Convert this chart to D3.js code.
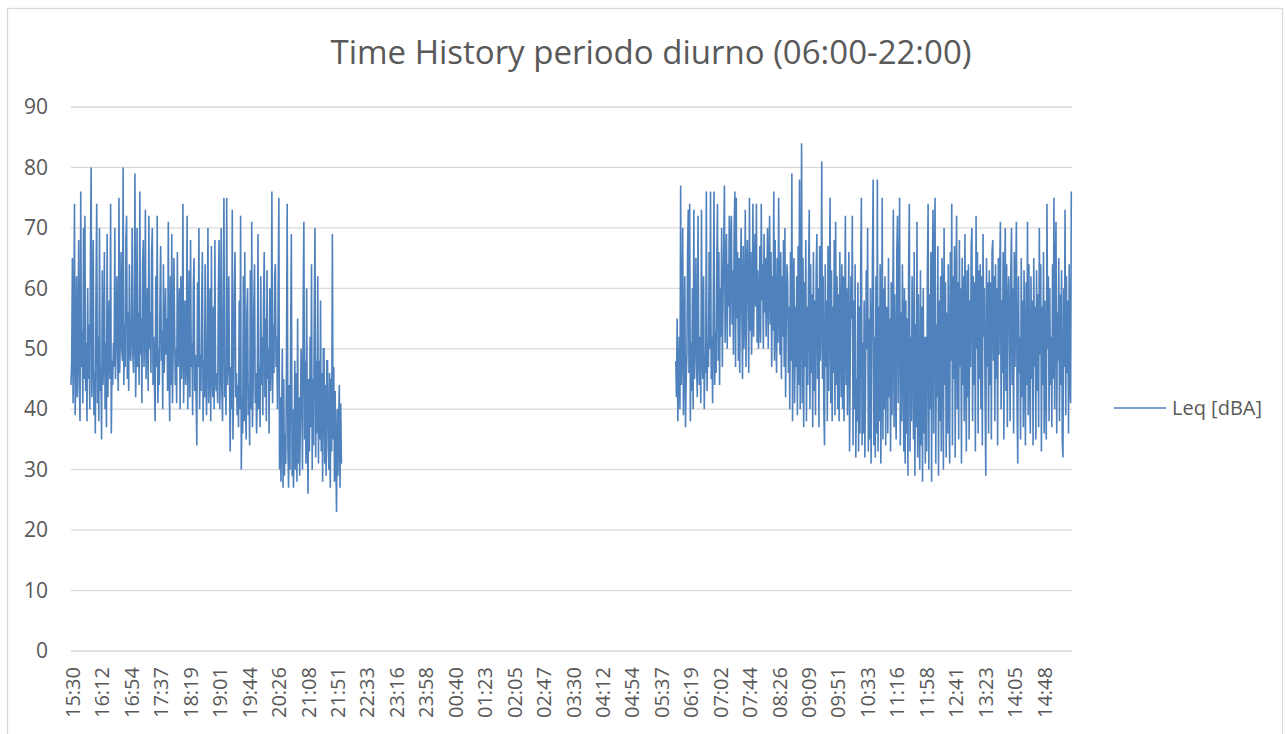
<!DOCTYPE html>
<html>
<head>
<meta charset="utf-8">
<script src="https://cdn.jsdelivr.net/npm/d3@7"></script>
<style>
  body { margin: 0; background: #fff; }
  svg { display: block; font-family: "Open Sans", sans-serif; }
</style>
</head>
<body>
<svg id="chart" width="1285" height="734"></svg>
<script>
// Chart text
const chartTitle = "Time History periodo diurno (06:00-22:00)";
const seriesName = "Leq [dBA]";

// Category labels on the x axis (one every 1/34 of the day)
const timeLabels = ["15:30","16:12","16:54","17:37","18:19","19:01","19:44","20:26","21:08","21:51",
  "22:33","23:16","23:58","00:40","01:23","02:05","02:47","03:30","04:12","04:54",
  "05:37","06:19","07:02","07:44","08:26","09:09","09:51","10:33","11:16","11:58",
  "12:41","13:23","14:05","14:48"];

const yTicks = [0, 10, 20, 30, 40, 50, 60, 70, 80, 90];

// Minutes after 15:30 where each measured block starts, and the step between samples
const afternoonStart = 0;     // 15:30
const morningStart = 870;     // 06:00 next day
const sampleStep = 1;         // minutes

// Leq values, one per minute, 15:30 -> 22:00 (one row = 30 minutes)
const afternoonLeq = [
  44,48,65,41,52,74,39,46,62,42, 50,68,44,38,76,47,53,41,70,45, 72,43,51,38,60,45,54,40,66,80,
  42,50,68,39,46,36,60,74,41,52, 38,70,43,47,35,63,44,49,66,40, 51,37,69,42,50,58,45,74,36,48,
  44,51,47,70,45,53,62,49,43,75, 46,52,66,50,48,80,44,54,47,68, 72,45,56,43,64,50,48,53,70,49,
  46,53,79,42,50,70,47,56,44,76, 49,55,41,64,68,47,52,73,45,51, 60,43,72,50,56,46,66,70,44,52,
  45,38,62,47,72,41,50,44,58,67, 48,53,40,64,46,51,60,49,55,43, 71,47,38,62,44,69,41,50,65,54,
  44,50,41,66,47,52,60,40,62,45, 49,74,41,51,58,44,48,72,40,50, 63,42,68,47,51,39,60,65,43,49,
  42,34,61,47,70,40,49,43,58,66, 38,48,42,64,45,39,50,70,41,47, 60,38,67,46,42,57,40,68,45,43,
  46,41,60,68,40,47,70,43,38,58, 75,42,46,39,75,44,48,62,45,33, 47,40,73,35,44,59,66,42,46,39,
  44,37,58,40,72,30,42,36,62,38, 66,41,35,56,60,39,44,34,63,40, 71,37,43,57,64,41,46,36,42,69,
  40,47,37,62,44,52,39,58,66,42, 55,38,63,45,50,36,60,43,49,76, 41,54,46,62,64,47,52,40,58,75,
  30,42,28,38,50,27,45,29,36,31, 48,74,34,27,44,30,52,69,29,40, 27,33,48,30,46,28,55,31,42,29,
  38,50,44,30,58,71,35,48,31,60, 36,26,45,33,52,37,64,30,45,34, 56,70,32,48,36,62,31,48,35,58,
  33,46,28,50,50,31,44,29,48,48, 34,30,46,27,45,33,69,35,47,28, 43,32,23,40,29,38,44,27,41,31
];

// Leq values, one per minute, 06:00 -> 15:30 (one row = 30 minutes)
const morningLeq = [
  48,42,55,38,46,52,40,77,44,50, 70,39,47,62,37,45,49,66,73,46, 74,38,51,43,60,40,73,45,52,65,
  47,42,72,50,44,52,41,73,48,45, 62,40,49,46,76,43,51,47,66,50, 76,45,52,41,58,76,44,53,46,64,
  74,48,66,44,60,52,70,47,58,67, 77,51,62,69,50,64,57,72,52,68, 72,54,63,49,70,76,47,75,55,66,
  48,65,46,62,70,57,45,67,50,55, 73,47,63,68,58,46,75,53,66,49, 56,74,52,62,69,57,74,51,63,50,
  55,67,51,74,58,64,50,69,56,65, 52,61,70,50,63,72,54,66,47,62, 53,76,48,68,55,46,65,51,75,57,
  49,66,45,62,52,68,47,70,42,56, 64,61,46,57,40,66,48,79,38,60, 65,41,57,47,62,39,67,44,78,40,
  58,84,41,65,37,61,47,68,38,57, 44,62,73,40,64,46,59,37,66,43, 58,39,63,69,45,60,37,67,48,56,
  81,45,62,40,34,64,47,58,38,67, 43,60,75,41,63,38,57,46,68,39, 71,44,62,40,59,38,66,53,42,64,
  40,62,38,56,72,44,60,39,54,66, 33,49,62,55,72,34,58,40,64,32, 45,38,61,33,57,36,63,75,34,51,
  36,58,32,44,63,50,70,33,55,35, 60,31,49,65,78,34,52,32,62,36, 78,33,57,38,64,31,48,75,35,60,
  40,62,34,57,56,36,65,42,55,33, 61,39,54,73,37,59,44,35,66,72, 41,58,75,34,56,38,64,52,33,60,
  31,58,36,55,29,64,74,33,52,38, 62,50,35,66,29,54,37,71,32,59, 40,30,63,34,57,28,60,36,52,31,
  52,33,63,74,30,59,40,66,28,60, 73,36,64,75,31,54,42,67,29,58, 38,62,33,65,59,30,70,44,61,32,
  56,36,64,43,31,66,48,74,34,62, 45,67,32,59,72,40,61,35,68,47, 60,31,65,44,62,38,69,50,33,63,
  42,64,35,58,47,67,70,38,62,44, 61,33,72,50,66,36,63,45,64,40, 62,34,69,52,60,41,29,65,47,61,
  36,63,44,61,35,66,68,48,62,38, 64,45,60,34,65,49,63,71,40,58, 46,66,35,60,70,43,64,37,57,62,
  55,38,63,70,44,60,36,66,47,60, 71,40,31,62,46,52,35,65,42,58, 37,63,49,34,61,44,71,39,64,46,
  36,62,45,58,34,65,47,57,35,63, 43,59,37,70,49,64,33,57,44,66, 36,58,46,35,74,50,62,38,60,44,
  52,37,64,45,75,40,62,71,36,56, 48,65,38,59,44,63,35,32,60,47, 73,39,62,46,58,36,64,44,41,76
];

// Layout
const svg = d3.select("#chart");
const margin = { left: 71, right: 1072, top: 107, bottom: 651 };
const textColor = "#595959";
const gridColor = "#d9d9d9";
const lineColor = "#4f81bd";

// Scales: x in minutes after 15:30 over the whole day
const x = d3.scaleLinear().domain([0, 1440]).range([margin.left, margin.right]);
const y = d3.scaleLinear().domain([0, 90]).range([margin.bottom, margin.top]);
const labelStep = 1440 / timeLabels.length;

// Chart border
svg.append("rect")
  .attr("x", 7.5).attr("y", 8.5)
  .attr("width", 1275).attr("height", 760)
  .attr("fill", "none")
  .attr("stroke", gridColor)
  .attr("stroke-width", 1.3);

// Title
svg.append("text")
  .attr("x", 651).attr("y", 64)
  .attr("text-anchor", "middle")
  .attr("fill", textColor)
  .style("font-size", "33px")
  .text(chartTitle);

// Gridlines
svg.append("g")
  .selectAll("line")
  .data(yTicks)
  .join("line")
    .attr("x1", margin.left).attr("x2", margin.right)
    .attr("y1", d => y(d)).attr("y2", d => y(d))
    .attr("stroke", gridColor)
    .attr("stroke-width", 1.3);

// Y axis labels
const yAxis = svg.append("g")
  .attr("transform", `translate(${margin.left},0)`)
  .call(d3.axisLeft(y).tickValues(yTicks).tickSize(0).tickPadding(23));
yAxis.select(".domain").remove();
yAxis.selectAll("text")
  .attr("fill", textColor)
  .style("font-size", "21px")
  .style("font-family", "Open Sans, sans-serif");

// X axis labels, rotated
const xAxis = svg.append("g")
  .attr("transform", `translate(0,${margin.bottom})`)
  .call(d3.axisBottom(x)
    .tickValues(timeLabels.map((d, i) => i * labelStep))
    .tickFormat((d, i) => timeLabels[i])
    .tickSize(0));
xAxis.select(".domain").remove();
xAxis.selectAll("text")
  .attr("transform", "rotate(-90)")
  .attr("x", -16)
  .attr("y", 1.5)
  .attr("dy", "0.35em")
  .style("text-anchor", "end")
  .attr("fill", textColor)
  .style("font-size", "20px")
  .style("font-family", "Open Sans, sans-serif");

// Build the series: afternoon block, gap for the night, morning block
const points = [
  ...afternoonLeq.map((v, i) => ({ t: afternoonStart + i * sampleStep, v })),
  { t: 600, v: null },
  ...morningLeq.map((v, i) => ({ t: morningStart + i * sampleStep, v }))
];

const line = d3.line()
  .defined(d => d.v !== null)
  .x(d => x(d.t))
  .y(d => y(d.v));

svg.append("path")
  .datum(points)
  .attr("fill", "none")
  .attr("stroke", lineColor)
  .attr("stroke-width", 1.6)
  .attr("stroke-linejoin", "miter")
  .attr("d", line);

// Legend
svg.append("line")
  .attr("x1", 1114).attr("x2", 1166)
  .attr("y1", 408).attr("y2", 408)
  .attr("stroke", lineColor)
  .attr("stroke-width", 1.4);

svg.append("text")
  .attr("x", 1172).attr("y", 408)
  .attr("dy", "0.35em")
  .attr("fill", textColor)
  .style("font-size", "20px")
  .text(seriesName);
</script>
</body>
</html>
